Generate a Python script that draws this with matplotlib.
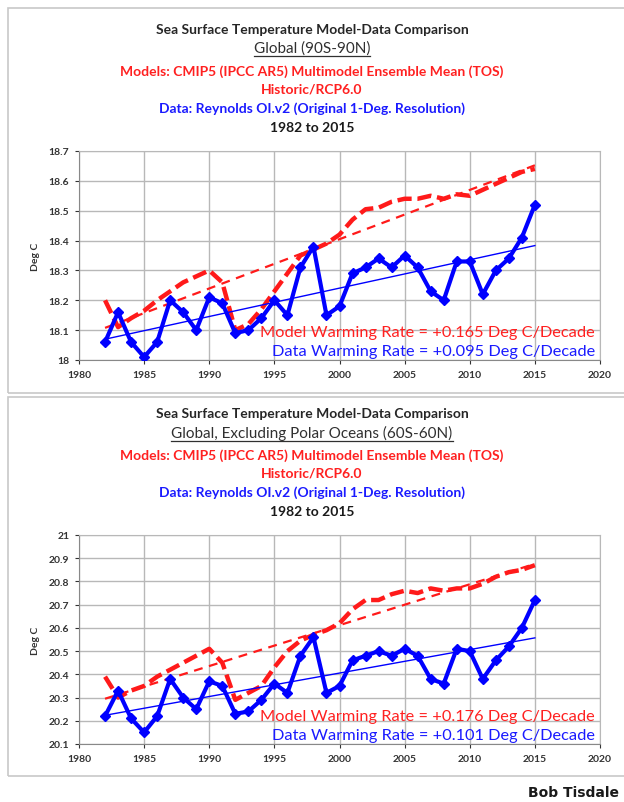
import numpy as np
import matplotlib; matplotlib.use('Agg')
import matplotlib.pyplot as plt
from matplotlib.lines import Line2D
from matplotlib.patches import Rectangle

plt.rcParams['font.family'] = ['Lato', 'DejaVu Sans']

years = list(range(1982, 2016))

# global 90S-90N
glob_model = [18.20, 18.11, 18.14, 18.165, 18.20, 18.23, 18.26, 18.28, 18.30, 18.26,
              18.10, 18.12, 18.17, 18.23, 18.29, 18.35, 18.37, 18.39, 18.42, 18.47,
              18.505, 18.51, 18.53, 18.54, 18.54, 18.55, 18.54, 18.555, 18.55, 18.57,
              18.59, 18.61, 18.63, 18.64]
glob_data = [18.06, 18.16, 18.06, 18.01, 18.06, 18.20, 18.16, 18.10, 18.21, 18.19,
             18.09, 18.10, 18.14, 18.20, 18.15, 18.31, 18.38, 18.15, 18.18, 18.29,
             18.31, 18.34, 18.31, 18.35, 18.31, 18.23, 18.20, 18.33, 18.33, 18.22,
             18.30, 18.34, 18.41, 18.52]
glob_rates = (0.165, 0.095)

# 60S-60N
trop_model = [20.39, 20.30, 20.33, 20.35, 20.39, 20.42, 20.45, 20.48, 20.51, 20.45,
              20.29, 20.32, 20.35, 20.43, 20.50, 20.545, 20.57, 20.59, 20.62, 20.68,
              20.72, 20.72, 20.745, 20.76, 20.75, 20.77, 20.76, 20.77, 20.77, 20.79,
              20.82, 20.84, 20.85, 20.87]
trop_data = [20.22, 20.33, 20.21, 20.15, 20.22, 20.38, 20.30, 20.25, 20.37, 20.35,
             20.23, 20.24, 20.29, 20.36, 20.32, 20.48, 20.56, 20.32, 20.35, 20.46,
             20.48, 20.50, 20.48, 20.51, 20.48, 20.38, 20.36, 20.51, 20.50, 20.38,
             20.46, 20.52, 20.60, 20.72]
trop_rates = (0.176, 0.101)

W, H = 624, 803
fig = plt.figure(figsize=(W / 100, H / 100), dpi=100)
fig.patch.set_facecolor('white')

def fy(p):
    return 1 - p / H

def fx(p):
    return p / W

# panel frames
for top, bot in [(9, 394), (398, 777)]:
    fig.patches.append(Rectangle((fx(8), fy(bot)), fx(640), (bot - top) / H,
                                 transform=fig.transFigure, fill=False,
                                 ec='#c8c8c8', lw=1.2))

def trend(y, rate):
    x = np.array(years, float)
    y = np.array(y)
    return y.mean() + rate / 10 * (x - x.mean())

def panel(top, region, model, data, rates, ylim, yticks):
    lines = [
        ('Sea Surface Temperature Model-Data Comparison', '#262626', 'bold', 10, 0),
        (region, '#303030', 'normal', 11, 19),
        ('Models: CMIP5 (IPCC AR5) Multimodel Ensemble Mean (TOS)', '#ff2020', 'bold', 10, 42),
        ('Historic/RCP6.0', '#ff2020', 'bold', 10, 60),
        ('Data: Reynolds OI.v2 (Original 1-Deg. Resolution)', '#1a1aff', 'bold', 10, 79),
        ('1982 to 2015', '#1a1a1a', 'bold', 10, 98),
    ]
    texts = []
    for s, c, w, fs, dy in lines:
        t = fig.text(fx(312), fy(top + dy), s, color=c, fontweight=w, fontsize=fs,
                     ha='center', va='center')
        texts.append(t)
    # underline for region line
    fig.canvas.draw()
    bb = texts[1].get_window_extent(fig.canvas.get_renderer())
    fig.add_artist(Line2D([bb.x0 / W, bb.x1 / W], [(bb.y0 - 1) / H, (bb.y0 - 1) / H],
                          transform=fig.transFigure, color='#303030', lw=0.9))

    ptop = top + 122
    ax = fig.add_axes([fx(79), fy(ptop + 209), fx(521), 209 / H])
    ax.plot(years, model, color='#ff1a1a', lw=3.2, ls=(0, (3.2, 1.3)), zorder=3)
    ax.plot(years, trend(model, rates[0]), color='#ff1a1a', lw=1.6,
            ls=(0, (4, 3)), zorder=3)
    ax.plot(years, data, color='#0000ff', lw=3, marker='D', ms=5.5, zorder=4)
    ax.plot(years, trend(data, rates[1]), color='#0000ff', lw=1, zorder=4)
    ax.set_xlim(1980, 2020)
    ax.set_ylim(*ylim)
    ax.set_xticks(range(1980, 2021, 5))
    ax.set_yticks(yticks)
    ax.set_yticklabels(['%g' % v for v in yticks])
    ax.grid(True, color='#b8b8b8', lw=1)
    ax.set_axisbelow(True)
    for sp in ax.spines.values():
        sp.set_color('#b8b8b8')
    ax.spines['left'].set_color('#888888')
    ax.spines['bottom'].set_color('#888888')
    ax.tick_params(labelsize=7.5, colors='#333333', length=3, width=0.8, pad=4)
    for lab in ax.get_xticklabels() + ax.get_yticklabels():
        lab.set_fontweight('bold')
    ax.set_ylabel('Deg C', fontsize=7.5, fontweight='bold', color='#333333', labelpad=6)
    ax.text(0.990, 0.134, 'Model Warming Rate = +%.3f Deg C/Decade' % rates[0],
            transform=ax.transAxes, ha='right', va='center', color='#ff2020',
            fontsize=11.8, zorder=5)
    ax.text(0.990, 0.043, 'Data Warming Rate = +%.3f Deg C/Decade' % rates[1],
            transform=ax.transAxes, ha='right', va='center', color='#1a1aff',
            fontsize=11.8, zorder=5)
    return ax

panel(30, 'Global (90S-90N)', glob_model, glob_data, glob_rates,
      (18.0, 18.7), [18, 18.1, 18.2, 18.3, 18.4, 18.5, 18.6, 18.7])
panel(414, 'Global, Excluding Polar Oceans (60S-60N)', trop_model, trop_data, trop_rates,
      (20.1, 21.0), [20.1, 20.2, 20.3, 20.4, 20.5, 20.6, 20.7, 20.8, 20.9, 21])

fig.text(fx(619), fy(793), 'Bob Tisdale', ha='right', va='center', fontsize=10,
         fontweight='bold', color='#1a1a1a', family=['DejaVu Sans'])

fig.savefig('out.png', dpi=100, facecolor='white')
